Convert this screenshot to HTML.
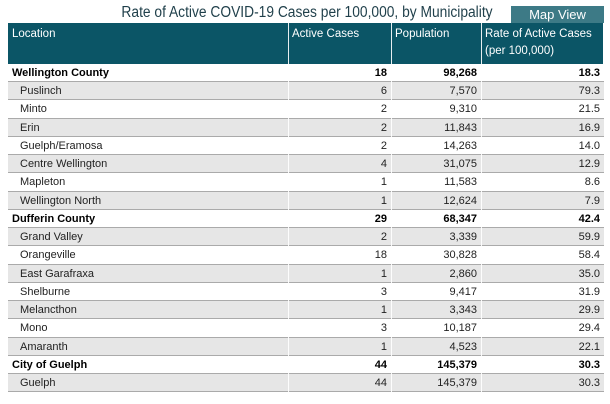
<!DOCTYPE html>
<html><head><meta charset="utf-8"><style>
body{margin:0;width:610px;height:404px;background:#fff;font-family:"Liberation Sans",sans-serif;position:relative;overflow:hidden}
.title{position:absolute;left:57px;top:4px;width:500px;text-align:center;font-size:15.5px;color:#1f3f4a;white-space:nowrap;transform:scaleX(0.89);transform-origin:250px 0}
.btn{position:absolute;left:511px;top:6px;width:93px;height:17px;background:#3d7a86;color:#fff;font-size:13px;text-align:center;line-height:17px}
.hdr{position:absolute;left:8px;top:23px;width:595px;height:41px;background:#0b5566}
.hc{position:absolute;top:26px;color:#fff;font-size:11.5px;line-height:17px}
.vl{position:absolute;top:23px;width:1px;background:#fff;height:369px;opacity:.9}
.row{position:absolute;left:8px;width:596px;height:18.2px;border-bottom:1px solid #aaa;font-size:11px;line-height:18px;color:#222;box-sizing:border-box}
.row.g{background:#e6e6e6}
.row.b{font-weight:bold;color:#000}
.row span{position:absolute}
.n{left:4px}.s .n{left:12px}
.c1{right:217px}.c2{right:127px}.c3{right:4px}
</style></head><body>
<div class="title">Rate of Active COVID-19 Cases per 100,000, by Municipality</div>
<div class="btn">Map View</div>
<div class="hdr"></div>
<div class="hc" style="left:12px">Location</div>
<div class="hc" style="left:292px">Active Cases</div>
<div class="hc" style="left:395px">Population</div>
<div class="hc" style="left:485px">Rate of Active Cases<br>(per 100,000)</div>
<div id="rows"></div>
<div class="vl" style="left:288px"></div>
<div class="vl" style="left:391px"></div>
<div class="vl" style="left:481px"></div>
<script>
var d=[["Wellington County",18,"98,268","18.3",1],["Puslinch",6,"7,570","79.3"],["Minto",2,"9,310","21.5"],["Erin",2,"11,843","16.9"],["Guelph/Eramosa",2,"14,263","14.0"],["Centre Wellington",4,"31,075","12.9"],["Mapleton",1,"11,583","8.6"],["Wellington North",1,"12,624","7.9"],["Dufferin County",29,"68,347","42.4",1],["Grand Valley",2,"3,339","59.9"],["Orangeville",18,"30,828","58.4"],["East Garafraxa",1,"2,860","35.0"],["Shelburne",3,"9,417","31.9"],["Melancthon",1,"3,343","29.9"],["Mono",3,"10,187","29.4"],["Amaranth",1,"4,523","22.1"],["City of Guelph",44,"145,379","30.3",1],["Guelph",44,"145,379","30.3"]];
var h="";d.forEach(function(r,i){var t=64+i*18.24;h+='<div class="row '+(i%2?'g ':'')+(r[4]?'b':'s')+'" style="top:'+t+'px"><span class="n">'+r[0]+'</span><span class="c1">'+r[1]+'</span><span class="c2">'+r[2]+'</span><span class="c3">'+r[3]+'</span></div>'});
document.getElementById("rows").innerHTML=h;
</script>
</body></html>
